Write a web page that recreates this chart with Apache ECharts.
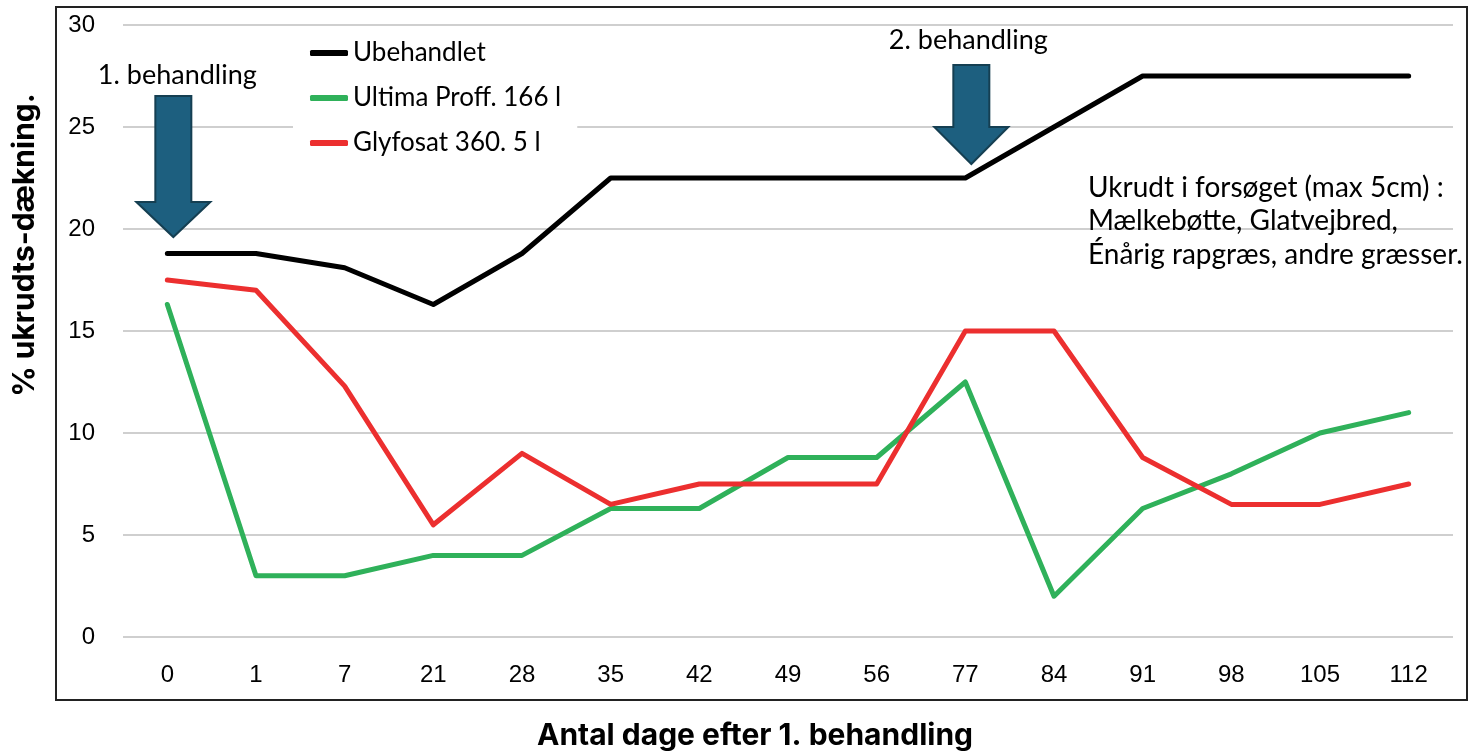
<!DOCTYPE html>
<html>
<head>
<meta charset="utf-8">
<script src="https://cdn.jsdelivr.net/npm/echarts@6/dist/echarts.min.js"></script>
<style>
html,body{margin:0;padding:0;background:#fff;}
#chart{width:1469px;height:751px;}
</style>
</head>
<body>
<div id="chart"></div>
<script>
// ---- data ----
const categories = ['0','1','7','21','28','35','42','49','56','77','84','91','98','105','112'];
const ubehandlet = [18.8,18.8,18.1,16.3,18.8,22.5,22.5,22.5,22.5,22.5,25,27.5,27.5,27.5,27.5];
const ultima     = [16.3,3,3,4,4,6.3,6.3,8.8,8.8,12.5,2,6.3,8,10,11];
const glyfosat   = [17.5,17,12.3,5.5,9,6.5,7.5,7.5,7.5,15,15,8.8,6.5,6.5,7.5];
const seriesNames = ['Ubehandlet','Ultima Proff. 166 l','Glyfosat 360. 5 l'];
const yMin = 0, yMax = 30, yStep = 5;
const xTitle = 'Antal dage efter 1. behandling';
const yTitle = '% ukrudts-dækning.';
const note = 'Ukrudt i forsøget (max 5cm) :\nMælkebøtte, Glatvejbred,\nÉnårig rapgræs, andre græsser.';
const treatments = [{cat:'0', label:'1. behandling'},{cat:'77', label:'2. behandling'}];

const chart = echarts.init(document.getElementById('chart'));
const lineFont = 'Lato, "Open Sans", sans-serif';
const axisFont = '"Liberation Sans", Arial, sans-serif';

function mkSeries(name, data, color){
  return {name, type:'line', data, symbol:'none', smooth:false,
    lineStyle:{color, width:5, cap:'round', join:'round'}, itemStyle:{color}};
}

chart.setOption({
  animation:false,
  backgroundColor:'#fff',
  grid:{left:123, right:16, top:25, bottom:114, containLabel:false},
  legend:{
    orient:'vertical', left:293, top:34,
    data:seriesNames, icon:'roundRect', itemWidth:38, itemHeight:6, itemGap:19,
    backgroundColor:'#fff', padding:[6,16,10,17],
    textStyle:{fontFamily:lineFont, fontSize:26, color:'#000', lineHeight:26}
  },
  xAxis:{
    type:'category', data:categories, boundaryGap:true,
    axisLine:{show:false}, axisTick:{show:false},
    axisLabel:{color:'#000', fontSize:24, fontFamily:axisFont, margin:26}
  },
  yAxis:{
    type:'value', min:yMin, max:yMax, interval:yStep,
    axisLine:{show:false}, axisTick:{show:false},
    axisLabel:{color:'#000', fontSize:24, fontFamily:axisFont, margin:28},
    splitLine:{lineStyle:{color:'#cfcfcf', width:2}}
  },
  series:[
    mkSeries(seriesNames[0], ubehandlet, '#000000'),
    mkSeries(seriesNames[1], ultima, '#2fb15a'),
    mkSeries(seriesNames[2], glyfosat, '#ec2f2f')
  ]
});

function arrow(cx, top, headTop, tip, shaftHW, headHW){
  return {type:'polygon', z:20,
    shape:{points:[[cx-shaftHW,top],[cx+shaftHW,top],[cx+shaftHW,headTop],[cx+headHW,headTop],[cx,tip],[cx-headHW,headTop],[cx-shaftHW,headTop]]},
    style:{fill:'#1d5f7f', stroke:'#153f52', lineWidth:2}};
}

const x0 = chart.convertToPixel({xAxisIndex:0}, treatments[0].cat);
const x1 = chart.convertToPixel({xAxisIndex:0}, treatments[1].cat);

chart.setOption({
  graphic:[
    {type:'rect', z:30, shape:{x:56, y:7, width:1411, height:693}, style:{fill:'none', stroke:'#222', lineWidth:2}},
    arrow(x0+6, 96, 202, 237, 18, 37),
    arrow(x1+6, 65, 127, 164, 18, 37),
    {type:'text', z:20, x:x0+10, y:75, style:{text:treatments[0].label, font:'27px '+lineFont, fill:'#000', align:'center', verticalAlign:'middle'}},
    {type:'text', z:20, x:x1+3, y:40, style:{text:treatments[1].label, font:'27px '+lineFont, fill:'#000', align:'center', verticalAlign:'middle'}},
    {type:'text', z:20, x:1088, y:171, style:{text:note, font:'28px '+lineFont, fill:'#000', lineHeight:33.5, align:'left', verticalAlign:'top'}},
    {type:'text', z:20, x:755, y:736, style:{text:xTitle, font:'bold 30px Inter, sans-serif', fill:'#000', align:'center', verticalAlign:'middle'}},
    {type:'text', z:20, x:25, y:245, rotation:Math.PI/2, style:{text:yTitle, font:'bold 30px Inter, sans-serif', fill:'#000', align:'center', verticalAlign:'middle'}}
  ]
});
</script>
</body>
</html>
